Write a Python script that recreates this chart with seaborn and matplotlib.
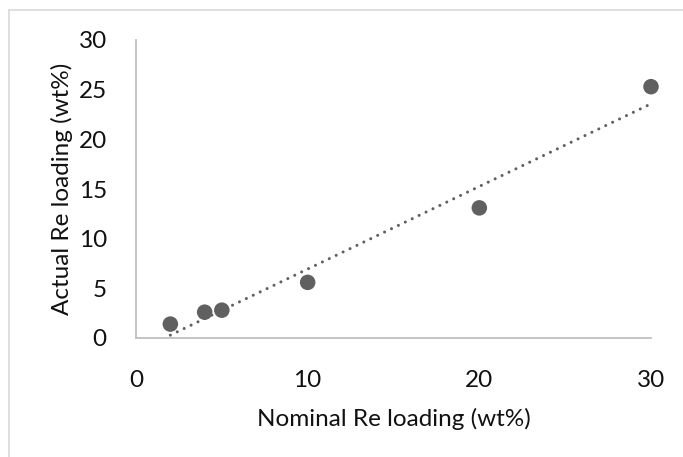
import matplotlib
matplotlib.use("Agg")
import matplotlib.pyplot as plt
import seaborn as sns
import pandas as pd
from matplotlib.lines import Line2D

nominal = [2, 4, 5, 10, 20, 30]
actual = [1.4, 2.6, 2.8, 5.6, 13.1, 25.3]
x_ticks = [0, 10, 20, 30]
y_ticks = [0, 5, 10, 15, 20, 25, 30]

df = pd.DataFrame({"nominal": nominal, "actual": actual})

sns.set_theme(style="white")
plt.rcParams['font.family'] = ['Lato', 'DejaVu Sans']

fig = plt.figure(figsize=(6.83, 4.57), dpi=100)
ax = fig.add_axes([136/683, (457-338)/457, (651-136)/683, (338-40)/457])

color = "#606060"
sns.regplot(data=df, x="nominal", y="actual", ax=ax, ci=None, truncate=True,
            scatter_kws=dict(s=125, color=color, edgecolor="none", alpha=1,
                             zorder=3, clip_on=False),
            line_kws=dict(color=color, linestyle=(0, (0.01, 2.5)), linewidth=2.2,
                          dash_capstyle="round", zorder=2))

ax.set_xlim(0, 30)
ax.set_ylim(0, 30)
ax.set_xticks(x_ticks)
ax.set_yticks(y_ticks)
ax.tick_params(axis="both", length=0, labelsize=17.5, colors="#111111")
ax.tick_params(axis="x", pad=23)
ax.tick_params(axis="y", pad=21)
for s in ["top", "right"]:
    ax.spines[s].set_visible(False)
for s in ["left", "bottom"]:
    ax.spines[s].set_color("#bfbfbf")
    ax.spines[s].set_linewidth(1.3)
ax.set_xlabel("Nominal Re loading (wt%)", fontsize=17.5, color="#111111", labelpad=12)
ax.set_ylabel("Actual Re loading (wt%)", fontsize=17.5, color="#111111", labelpad=4)

fig.add_artist(Line2D([9/683, 9/683], [0, 1 - 10/457], transform=fig.transFigure,
                      color="#d9d9d9", linewidth=1.2))
fig.add_artist(Line2D([9/683, 1], [1 - 10/457, 1 - 10/457], transform=fig.transFigure,
                      color="#d9d9d9", linewidth=1.2))

fig.savefig("out.png", dpi=100)
